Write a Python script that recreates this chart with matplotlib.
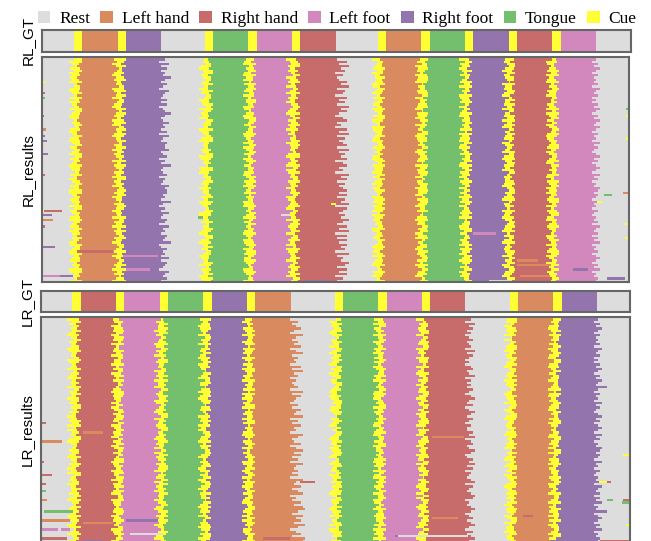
import numpy as np
import matplotlib.pyplot as plt
from matplotlib.colors import ListedColormap
from matplotlib.patches import Patch

CLASSES = ["Rest", "Left hand", "Right hand", "Left foot", "Right foot", "Tongue", "Cue"]
COLORS = ["#dddddd", "#d98b5f", "#c76b6b", "#d388bd", "#9474ad", "#74bf6e", "#ffff33"]

N_TRIALS = 100
STEP = 0.05  # seconds per column

# ground-truth sequences (label, duration in s)
RL_GT = ["Rest", "Cue", "Left hand", "Cue", "Right foot", "Rest",
         "Cue", "Tongue", "Cue", "Left foot", "Cue", "Right hand", "Rest",
         "Cue", "Left hand", "Cue", "Tongue", "Cue", "Right foot", "Cue", "Right hand",
         "Cue", "Left foot", "Rest"]
RL_DUR = [3.8, 1, 4.2, 1, 4.2, 5.2,
          1, 4.2, 1, 4.2, 1, 4.2, 5.0,
          1, 4.2, 1, 4.2, 1, 4.2, 1, 4.2,
          1, 4.2, 4.3]

LR_GT = ["Rest", "Cue", "Right hand", "Cue", "Left foot", "Cue", "Tongue", "Cue", "Right foot",
         "Cue", "Left hand", "Rest",
         "Cue", "Tongue", "Cue", "Left foot", "Cue", "Right hand", "Rest",
         "Cue", "Left hand", "Cue", "Right foot", "Rest"]
LR_DUR = [3.75, 1, 4.2, 1, 4.2, 1, 4.2, 1, 4.2,
          1, 4.2, 5.25,
          1, 4.2, 1, 4.2, 1, 4.2, 5.3,
          1, 4.2, 1, 4.2, 4.05]

# per-trial cue onset lead (x0.2 s, offset by one step), one string per cue
RL_LEAD = [
    "3142031423 2401342130 4213024312 1034213420 3124031243 2031420314 4213204132 0341231420 2143024312 3120431204",
    "2314201342 3120431240 1342023143 4021342103 2413204132 0324132401 3142031242 1403241320 3241023142 0132413024",
    "4120342132 0231423014 3204132401 2143203412 1320431204 3412023142 2031432014 4213021341 0342130243 1240321432",
    "1234021342 4031230412 2143024301 3012432140 4203142031 1342032412 3021434120 2403121342 1432042313 3210432014",
    "0421323104 2314024132 4102342031 3241302142 1203421340 4312032141 2043123402 3140232140 1324043212 4023132401",
    "3401231422 1243024130 2314203142 0432123410 3120342032 2413024132 1042313240 4231204312 3102423140 2341032412",
    "2130423142 3402132041 1234032410 4120343212 0342123041 3214032142 2403124130 1342302142 4021342310 3142023401",
    "1403242130 2314021432 3041234120 2130423413 4213021342 0324132041 3142304123 2401243130 1324032412 4203142310",
    "4231024132 1042313402 2314023141 3402123042 1240342132 4013223410 2134032142 3420123413 0341232140 2143023412",
    "2043123142 3412032401 1324042130 4201343212 3142023410 2034132142 4123204132 1340232014 3214023142 0432132401",
]
# per-trial cue offset shortfall (x0.2 s)
RL_LAG = [
    "1002310213 2031120302 1320012231 0213302110 3120021301 1203310220 0312120031 2101320213 0230113021 1312002130",
    "2013022131 0321103021 1230201310 3102013022 0213120301 2130031210 1022310132 3011203021 0231120213 1203021310",
    "0321120031 1203302112 2010132301 1302210023 3120012130 0231102312 2103013201 1320220130 0213031122 3012120301",
    "1130210302 2301021130 0213312001 3022013120 1201320231 2130102013 0312210130 1023031202 3210120013 0132201321",
    "2210031302 1032120213 3101203021 0213322010 1320031201 2031102132 0123210312 3201012031 1032201320 2130130201",
    "0312201130 2103012302 1320120013 3012203121 0231310201 1203021230 2310102013 0132210321 3021013102 1203201230",
    "3021102310 0132210031 2103301202 1230021132 0312102301 2013230110 1320012203 3102201031 0231130210 1302021320",
    "1202130312 3010213021 0231302110 2103021203 1320110302 0213202131 3102013210 2031120032 1320201301 0132031220",
    "2130012031 1302201320 3021130102 0213021231 2301102013 1032310210 0210231302 3120102031 1203230120 2031012303",
    "0213320103 2031012213 1320201031 3102013120 0231120302 1203301021 2130021310 0312102231 3021210013 1203031202",
]
# per-trial overrun of a task into the following rest (x0.25 s, offset by one step)
RL_TAIL = [
    "2305141326 3142053214 1402363125 2314052143 3512403162 1240321534 4231620315 2143052314 3260142315 1432053241",
    "5273846152 3748265173 6284731572 4173826357 2836471573 5184726357 3726481753 6485273817 2737461825 4862737152",
    "1203142031 2130421302 0314203142 1420312041 3102413024 2041302143 1320412031 0213042130 3140213024 2031402132",
]

LR_LEAD = [
    "2413021342 0312431204 3124023412 1403214230 2031423140 4120342013 1342031424 0231422130 3410231243 2143024103",
    "1320423142 3041231402 2413042130 0134232141 4203123042 1324031420 3012432142 2140321340 0432123142 3120432014",
    "4031224130 1243031402 3120423142 2401321430 1342041232 0213423140 4132031240 2304132412 1420342031 3142021340",
    "0312432140 2140231342 1432012403 3024134210 2310423142 4102341320 0241312430 3142024132 2013423140 1324203142",
    "3241032140 1420323142 0314213240 2130424132 4023141302 1342032041 3120431242 0413242130 2341023141 4120332014",
    "1042313420 3214024131 2403142032 0134243120 3421031240 2013423142 1340241230 4213021342 0321342140 2140431203",
    "2314032141 0421324130 3142013240 1203434120 4132021340 2341031422 0213423140 3402132041 1430241232 2031423140",
    "3402132140 1230423142 2041342031 4123024132 0314213240 3240132412 1423041320 2031342140 4102431230 1324023142",
    "1230423140 4013241320 2341023142 3102432140 1420341232 0341213240 2134024130 4210342131 3024132042 0413241320",
    "4120342131 2031421340 0342131240 1240342312 3412031420 2134023140 4013241322 1320431240 0241323140 3142024130",
]
LR_LAG = [
    "2103120312 0231102310 1320212031 3012031120 0213320103 2130012231 1302201320 0321130210 2013021302 1230310213",
    "0312210130 1203302112 2031120302 1320012231 3102013022 0213120301 2130031210 3011203021 1022310132 0231120213",
    "1320201031 3102013120 0231120302 1203301021 2130021310 0312102231 3021210013 1203031202 2310230102 0132201321",
    "3021102310 1202130312 0213302110 2310102013 1032120213 3101203021 0123210312 2031012303 1302021320 3210120013",
    "0231310201 2103012302 3120021301 1203021230 0312120031 2101320213 3201012031 0230113021 1312002130 2013230110",
    "1130210302 3022013120 2301021130 0213312001 1201320231 3012203121 0132210321 2130102013 1023031202 3102201031",
    "2210031302 0132031220 1320110302 3102013210 0213202131 2031120032 1320201301 3010213021 0231302110 2103021203",
    "0321120031 2010132301 1203302112 3120012130 1302210023 0231102312 2103013201 1320220130 3012120301 0213031122",
    "1002310213 3120021301 2031120302 0213302110 1320012231 2101320213 0312120031 3021013102 1203201230 0132210321",
    "3012120301 1320220130 0213031122 2103013201 1302210023 3120012130 0231102312 2010132301 1203302112 0321120031",
]
LR_TAIL = [
    "3152463174 2536147253 4162735142 3517264315 2643715263 4175236147 3625174352 5174362571 4263785274 6385146287",
    "2416352413 5234162531 3145236142 4253146325 1364253142 2536145236 4125362514 3246153246 5132464135 2463152463",
    "1203142031 2130421302 0314203142 1620312041 3102413024 2041302143 1320412031 0213042130 3140216024 2031402132",
]

# isolated misclassified stretches: (trial, start s, end s, class)
RL_STRAY = [
    (11, 0.0, 0.3, "Cue"), (16, 0.0, 0.3, "Right hand"), (18, 0.0, 0.3, "Tongue"),
    (23, 69.8, 70.3, "Tongue"), (26, 0.0, 0.2, "Right hand"), (26, 69.8, 70.3, "Cue"),
    (32, 0.0, 0.5, "Left hand"), (35, 0.0, 0.3, "Right foot"), (36, 69.8, 70.3, "Cue"),
    (37, 0.0, 0.6, "Right foot"), (43, 0.0, 0.7, "Right foot"), (52, 0.0, 0.3, "Right hand"),
    (60, 69.5, 70.3, "Left hand"), (61, 67.2, 68.2, "Tongue"), (64, 66.4, 67.0, "Cue"),
    (65, 34.6, 35.1, "Cue"), (68, 0.0, 0.2, "Cue"), (68, 0.2, 2.4, "Right hand"),
    (70, 0.0, 1.2, "Right foot"), (70, 28.6, 29.6, "Rest"), (71, 18.6, 19.2, "Tongue"),
    (72, 0.0, 1.3, "Left hand"), (74, 69.7, 70.3, "Cue"), (75, 0.0, 0.3, "Right hand"),
    (78, 51.5, 54.3, "Left foot"), (80, 69.7, 70.3, "Cue"), (84, 0.0, 1.6, "Right foot"),
    (86, 4.2, 8.5, "Right hand"), (88, 9.7, 13.9, "Left foot"), (90, 56.8, 59.3, "Left hand"),
    (92, 56.8, 60.8, "Left hand"), (94, 10.1, 12.9, "Left foot"), (94, 63.5, 65.3, "Right foot"),
    (97, 0.0, 0.15, "Cue"), (97, 0.15, 2.1, "Left foot"), (97, 2.1, 3.7, "Right foot"),
    (97, 57.1, 60.7, "Left hand"), (98, 67.5, 69.7, "Right foot"), (99, 31.6, 34.4, "Right foot"),
    (99, 53.4, 56.2, "Rest"),
]
LR_STRAY = [
    (47, 0.0, 0.6, "Right hand"), (51, 5.05, 7.45, "Left hand"), (53, 46.7, 50.5, "Left hand"),
    (55, 0.0, 2.5, "Left hand"), (61, 69.5, 70.35, "Cue"), (64, 0.0, 0.3, "Right hand"),
    (70, 0.0, 1.3, "Right hand"), (73, 30.9, 32.7, "Right hand"), (73, 66.7, 67.6, "Cue"),
    (73, 67.6, 68.1, "Right hand"), (74, 0.0, 0.6, "Right hand"), (77, 0.0, 0.6, "Tongue"),
    (81, 0.0, 0.7, "Left hand"), (81, 67.6, 68.3, "Tongue"), (81, 69.5, 70.35, "Right hand"),
    (82, 69.4, 70.35, "Tongue"), (86, 0.3, 3.85, "Tongue"), (88, 57.6, 58.8, "Right hand"),
    (89, 46.7, 49.8, "Left hand"), (90, 0.0, 3.45, "Left hand"), (90, 10.2, 14.0, "Right foot"),
    (91, 5.0, 8.6, "Left hand"), (92, 69.9, 70.35, "Cue"), (94, 0.0, 2.0, "Left foot"),
    (94, 2.4, 3.45, "Left foot"), (96, 10.6, 14.6, "Rest"), (97, 42.3, 42.6, "Right foot"),
    (97, 42.6, 51.0, "Rest"), (98, 0.0, 3.1, "Right hand"), (98, 26.5, 29.7, "Right hand"),
    (99, 5.0, 7.4, "Right foot"), (99, 60.8, 66.4, "Right foot"), (99, 66.8, 70.35, "Right hand"),
]


def col(t):
    return int(round(t / STEP))


def digits(s):
    d = np.array([int(c) for c in s.replace(" ", "")])
    assert len(d) == N_TRIALS, len(d)
    return d


def build(labels, durs, lead, lag, tail, strays):
    codes = [CLASSES.index(l) for l in labels]
    edges = np.concatenate([[0.0], np.cumsum(durs)])
    gt = np.zeros(col(edges[-1]), dtype=int)
    for c, a, b in zip(codes, edges[:-1], edges[1:]):
        gt[col(a):col(b)] = c
    res = np.tile(gt, (N_TRIALS, 1))

    cue_ids = [i for i, l in enumerate(labels) if l == "Cue"]
    end_ids = [i for i in range(len(labels) - 1)
               if labels[i] not in ("Rest", "Cue") and labels[i + 1] == "Rest"]
    lead = [digits(s) for s in lead]
    lag = [digits(s) for s in lag]
    tail = [digits(s) for s in tail]
    cue = CLASSES.index("Cue")

    for r in range(N_TRIALS):
        row = res[r]
        for k, i in enumerate(end_ids):
            t_end = edges[i + 1]
            ext = (tail[k][r] - 1) * 0.25
            if ext > 0:
                row[col(t_end):col(t_end + ext)] = codes[i]
            else:
                row[col(t_end + ext):col(t_end)] = 0
        for k, i in enumerate(cue_ids):
            a, b = col(edges[i]), col(edges[i + 1])
            s = col(edges[i] + (1 - lead[k][r]) * 0.2)
            e = col(edges[i + 1] - lag[k][r] * 0.2)
            row[a:s] = codes[i - 1]
            row[s:e] = cue
            row[e:b] = codes[i + 1]
    for r, t0, t1, lab in strays:
        res[r, col(t0):col(t1)] = CLASSES.index(lab)
    return gt, res, edges[-1]


cmap = ListedColormap(COLORS)

fig = plt.figure(figsize=(6.51, 5.41), dpi=100)

panels = [
    ("RL_GT", [0.0641, 0.9044, 0.9055, 0.0401]),
    ("RL_results", [0.0641, 0.4793, 0.9026, 0.4159]),
    ("LR_GT", [0.0630, 0.4227, 0.9048, 0.0394]),
    ("LR_results", [0.0630, -0.002, 0.9040, 0.4166]),
]

rl_gt, rl_res, rl_T = build(RL_GT, RL_DUR, RL_LEAD, RL_LAG, RL_TAIL, RL_STRAY)
lr_gt, lr_res, lr_T = build(LR_GT, LR_DUR, LR_LEAD, LR_LAG, LR_TAIL, LR_STRAY)
images = [(rl_gt[None, :], rl_T), (rl_res, rl_T), (lr_gt[None, :], lr_T), (lr_res, lr_T)]

for (name, rect), (img, T) in zip(panels, images):
    ax = fig.add_axes(rect)
    ax.imshow(img, cmap=cmap, vmin=-0.5, vmax=len(CLASSES) - 0.5, aspect="auto",
              interpolation="nearest", extent=[0, T, img.shape[0], 0])
    ax.set_xticks([])
    ax.set_yticks([])
    for sp in ax.spines.values():
        sp.set_color("#666666")
        sp.set_linewidth(1.5)
    ax.set_ylabel(name, fontsize=11, family="Liberation Sans", labelpad=5)

handles = [Patch(facecolor=c, edgecolor="none", label=l) for l, c in zip(CLASSES, COLORS)]
fig.legend(handles=handles, ncol=7, loc="center", bbox_to_anchor=(0.518, 0.965),
           frameon=False, handlelength=0.72, handleheight=0.72, handletextpad=0.5,
           columnspacing=0.6, borderaxespad=0, borderpad=0,
           prop={"family": "Liberation Serif", "size": 12.5})

fig.savefig("out.png", dpi=100)
